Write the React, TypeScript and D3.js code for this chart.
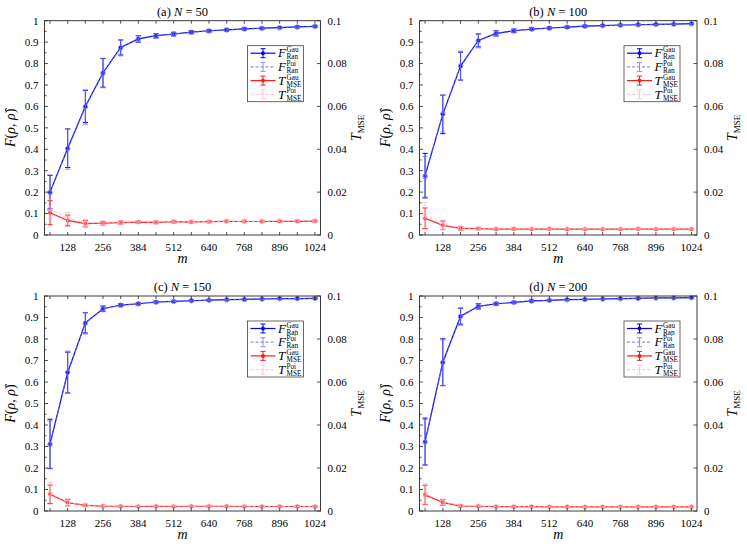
import * as d3 from "d3";

// sampling sizes m
const M_VALUES = [64, 128, 192, 256, 320, 384, 448, 512, 576, 640, 704, 768, 832, 896, 960, 1024];
const X_TICKS = [128, 256, 384, 512, 640, 768, 896, 1024];
const F_TICKS = [0, 0.1, 0.2, 0.3, 0.4, 0.5, 0.6, 0.7, 0.8, 0.9, 1];
const T_TICKS = [0, 0.02, 0.04, 0.06, 0.08, 0.1];

// N = 50
const F_GAU_50 = [0.2, 0.405, 0.6, 0.757, 0.875, 0.915, 0.93, 0.938, 0.947, 0.953, 0.957, 0.962, 0.965, 0.968, 0.971, 0.974];
const F_GAU_ERR_50 = [0.078, 0.09, 0.075, 0.067, 0.035, 0.015, 0.01, 0.008, 0.007, 0.006, 0.005, 0.005, 0.004, 0.004, 0.004, 0.004];
const F_POI_50 = [0.198, 0.402, 0.597, 0.755, 0.873, 0.914, 0.929, 0.937, 0.946, 0.952, 0.957, 0.961, 0.964, 0.967, 0.97, 0.973];
const F_POI_ERR_50 = [0.082, 0.095, 0.08, 0.068, 0.037, 0.016, 0.011, 0.009, 0.007, 0.006, 0.006, 0.005, 0.005, 0.004, 0.004, 0.004];
const T_GAU_50 = [0.0104, 0.0068, 0.0053, 0.0055, 0.0058, 0.006, 0.0059, 0.0062, 0.0061, 0.0062, 0.0064, 0.0063, 0.0063, 0.0064, 0.0064, 0.0065];
const T_GAU_ERR_50 = [0.0056, 0.0025, 0.0015, 0.0008, 0.0007, 0.0006, 0.0006, 0.0006, 0.0005, 0.0005, 0.0005, 0.0005, 0.0005, 0.0005, 0.0005, 0.0005];
const T_POI_50 = [0.0122, 0.0078, 0.0056, 0.0057, 0.0059, 0.0061, 0.006, 0.0063, 0.0062, 0.0063, 0.0064, 0.0064, 0.0064, 0.0065, 0.0065, 0.0066];
const T_POI_ERR_50 = [0.0045, 0.0027, 0.0016, 0.0009, 0.0007, 0.0006, 0.0006, 0.0006, 0.0005, 0.0005, 0.0005, 0.0005, 0.0005, 0.0005, 0.0005, 0.0005];

// N = 100
const F_GAU_100 = [0.277, 0.563, 0.788, 0.908, 0.941, 0.953, 0.961, 0.966, 0.97, 0.975, 0.977, 0.98, 0.981, 0.983, 0.984, 0.986];
const F_GAU_ERR_100 = [0.104, 0.09, 0.065, 0.03, 0.012, 0.008, 0.006, 0.005, 0.004, 0.004, 0.003, 0.003, 0.003, 0.003, 0.002, 0.002];
const F_POI_100 = [0.272, 0.566, 0.79, 0.906, 0.94, 0.952, 0.96, 0.965, 0.97, 0.974, 0.977, 0.979, 0.981, 0.982, 0.984, 0.985];
const F_POI_ERR_100 = [0.095, 0.085, 0.068, 0.033, 0.013, 0.008, 0.006, 0.005, 0.004, 0.004, 0.003, 0.003, 0.003, 0.003, 0.002, 0.002];
const T_GAU_100 = [0.0078, 0.0045, 0.0031, 0.003, 0.0027, 0.0028, 0.0027, 0.0028, 0.0027, 0.0027, 0.0027, 0.0027, 0.0028, 0.0027, 0.0027, 0.0027];
const T_GAU_ERR_100 = [0.0048, 0.002, 0.0008, 0.0005, 0.0004, 0.0004, 0.0003, 0.0003, 0.0003, 0.0003, 0.0003, 0.0003, 0.0003, 0.0003, 0.0003, 0.0003];
const T_POI_100 = [0.0088, 0.0048, 0.0033, 0.0031, 0.0028, 0.0029, 0.0028, 0.0029, 0.0028, 0.0028, 0.0028, 0.0028, 0.0029, 0.0028, 0.0028, 0.0028];
const T_POI_ERR_100 = [0.0064, 0.0022, 0.0009, 0.0005, 0.0004, 0.0004, 0.0003, 0.0003, 0.0003, 0.0003, 0.0003, 0.0003, 0.0003, 0.0003, 0.0003, 0.0003];

// N = 150
const F_GAU_150 = [0.312, 0.644, 0.875, 0.941, 0.958, 0.964, 0.972, 0.975, 0.978, 0.981, 0.983, 0.984, 0.986, 0.988, 0.988, 0.989];
const F_GAU_ERR_150 = [0.115, 0.095, 0.047, 0.012, 0.007, 0.005, 0.004, 0.003, 0.003, 0.003, 0.002, 0.002, 0.002, 0.002, 0.002, 0.002];
const F_POI_150 = [0.309, 0.646, 0.873, 0.94, 0.957, 0.964, 0.971, 0.975, 0.978, 0.98, 0.982, 0.984, 0.986, 0.987, 0.988, 0.989];
const F_POI_ERR_150 = [0.11, 0.098, 0.05, 0.013, 0.007, 0.005, 0.004, 0.003, 0.003, 0.003, 0.002, 0.002, 0.002, 0.002, 0.002, 0.002];
const T_GAU_150 = [0.0078, 0.0039, 0.0026, 0.0023, 0.0022, 0.0021, 0.0022, 0.0021, 0.0022, 0.0022, 0.0022, 0.0021, 0.0021, 0.0021, 0.0021, 0.0021];
const T_GAU_ERR_150 = [0.0043, 0.0015, 0.0006, 0.0004, 0.0003, 0.0003, 0.0003, 0.0003, 0.0003, 0.0003, 0.0003, 0.0003, 0.0003, 0.0003, 0.0003, 0.0003];
const T_POI_150 = [0.0082, 0.0041, 0.0027, 0.0023, 0.0022, 0.0022, 0.0022, 0.0022, 0.0022, 0.0022, 0.0022, 0.0022, 0.0021, 0.0021, 0.0021, 0.0021];
const T_POI_ERR_150 = [0.0052, 0.0016, 0.0006, 0.0004, 0.0003, 0.0003, 0.0003, 0.0003, 0.0003, 0.0003, 0.0003, 0.0003, 0.0003, 0.0003, 0.0003, 0.0003];

// N = 200
const F_GAU_200 = [0.323, 0.692, 0.906, 0.952, 0.964, 0.97, 0.977, 0.98, 0.983, 0.984, 0.986, 0.988, 0.989, 0.991, 0.991, 0.992];
const F_GAU_ERR_200 = [0.109, 0.109, 0.037, 0.012, 0.006, 0.005, 0.004, 0.003, 0.003, 0.002, 0.002, 0.002, 0.002, 0.002, 0.002, 0.002];
const F_POI_200 = [0.32, 0.69, 0.904, 0.951, 0.964, 0.97, 0.976, 0.98, 0.982, 0.984, 0.986, 0.987, 0.989, 0.99, 0.991, 0.992];
const F_POI_ERR_200 = [0.105, 0.106, 0.04, 0.013, 0.006, 0.005, 0.004, 0.003, 0.003, 0.002, 0.002, 0.002, 0.002, 0.002, 0.002, 0.002];
const T_GAU_200 = [0.0075, 0.004, 0.0023, 0.0022, 0.002, 0.002, 0.002, 0.0019, 0.0019, 0.0019, 0.0019, 0.0019, 0.0019, 0.0019, 0.0019, 0.0019];
const T_GAU_ERR_200 = [0.0045, 0.0013, 0.0005, 0.0004, 0.0003, 0.0003, 0.0003, 0.0003, 0.0003, 0.0003, 0.0003, 0.0003, 0.0003, 0.0003, 0.0003, 0.0003];
const T_POI_200 = [0.008, 0.0042, 0.0024, 0.0022, 0.0021, 0.0021, 0.002, 0.002, 0.002, 0.0019, 0.0019, 0.0019, 0.0019, 0.0019, 0.0019, 0.0019];
const T_POI_ERR_200 = [0.0048, 0.0014, 0.0005, 0.0004, 0.0003, 0.0003, 0.0003, 0.0003, 0.0003, 0.0003, 0.0003, 0.0003, 0.0003, 0.0003, 0.0003, 0.0003];

const FONT = "'Liberation Serif', 'DejaVu Serif', serif";
const AXIS = "#262626";
const BLUE = "#0000ff";
const BLUE_POI = "#6f6fe8";
const RED = "#ff1a1a";
const PINK = "#ffb3c1";

interface Series {
  values: number[];
  errs: number[];
  onRight: boolean;
  color: string;
  dash?: string;
  hollow: boolean;
  opacity: number;
}

interface PanelProps {
  label: string;
  n: number;
  left: number;
  right: number;
  top: number;
  bottom: number;
  fGau: number[];
  fGauErr: number[];
  fPoi: number[];
  fPoiErr: number[];
  tGau: number[];
  tGauErr: number[];
  tPoi: number[];
  tPoiErr: number[];
}

function ErrorBar({ x, y0, y1, color, opacity }: { x: number; y0: number; y1: number; color: string; opacity: number }) {
  const cap = 2.6;
  return (
    <g stroke={color} strokeWidth={1} opacity={opacity}>
      <line x1={x} x2={x} y1={y0} y2={y1} />
      <line x1={x - cap} x2={x + cap} y1={y0} y2={y0} />
      <line x1={x - cap} x2={x + cap} y1={y1} y2={y1} />
    </g>
  );
}

function Panel(p: PanelProps) {
  const x = d3.scaleLinear().domain([44, 1044]).range([p.left, p.right]);
  const yF = d3.scaleLinear().domain([0, 1]).range([p.bottom, p.top]);
  const yT = d3.scaleLinear().domain([0, 0.1]).range([p.bottom, p.top]);
  const midX = (p.left + p.right) / 2;
  const midY = (p.top + p.bottom) / 2;

  const series: Series[] = [
    { values: p.fGau, errs: p.fGauErr, onRight: false, color: BLUE, hollow: false, opacity: 1 },
    { values: p.fPoi, errs: p.fPoiErr, onRight: false, color: BLUE_POI, dash: "3,2", hollow: true, opacity: 0.75 },
    { values: p.tGau, errs: p.tGauErr, onRight: true, color: RED, hollow: false, opacity: 1 },
    { values: p.tPoi, errs: p.tPoiErr, onRight: true, color: PINK, dash: "3,2", hollow: true, opacity: 0.7 },
  ];

  const minorF = d3.range(0, 21).map((i) => i * 0.05);

  // legend
  const lgW = 56;
  const lgH = 56;
  const lgX = p.right - 17 - lgW;
  const lgY = p.top + 25;
  const legendRows = [
    { main: "F", sup: "Gau", sub: "Ran", s: series[0] },
    { main: "F", sup: "Poi", sub: "Ran", s: series[1] },
    { main: "T", sup: "Gau", sub: "MSE", s: series[2] },
    { main: "T", sup: "Poi", sub: "MSE", s: series[3] },
  ];

  return (
    <g fontFamily={FONT}>
      <text x={midX} y={p.top - 5} textAnchor="middle" fontSize={12.5} fill="#000">
        ({p.label}) <tspan fontStyle="italic">N</tspan> = {p.n}
      </text>

      {/* series */}
      {series.map((s, si) => {
        const ys = s.onRight ? yT : yF;
        const path = d3
          .line<number>()
          .x((_, i) => x(M_VALUES[i]))
          .y((v) => ys(v))(s.values);
        return (
          <g key={si}>
            <path d={path ?? ""} fill="none" stroke={s.color} strokeWidth={1.2} strokeDasharray={s.dash} opacity={s.opacity} />
            {s.values.map((v, i) => (
              <ErrorBar
                key={i}
                x={x(M_VALUES[i])}
                y0={ys(v - s.errs[i])}
                y1={ys(v + s.errs[i])}
                color={s.color}
                opacity={s.opacity}
              />
            ))}
            {s.values.map((v, i) =>
              s.hollow ? (
                <circle key={"m" + i} cx={x(M_VALUES[i])} cy={ys(v)} r={2.3} fill="none" stroke={s.color} strokeWidth={1} opacity={s.opacity} />
              ) : (
                <circle key={"m" + i} cx={x(M_VALUES[i])} cy={ys(v)} r={1.9} fill={s.color} />
              )
            )}
          </g>
        );
      })}

      {/* axes box */}
      <rect x={p.left} y={p.top} width={p.right - p.left} height={p.bottom - p.top} fill="none" stroke={AXIS} strokeWidth={0.9} />

      {/* x ticks */}
      {M_VALUES.map((t) => (
        <g key={"xt" + t} stroke={AXIS} strokeWidth={0.8}>
          <line x1={x(t)} x2={x(t)} y1={p.bottom} y2={p.bottom - 3} />
          <line x1={x(t)} x2={x(t)} y1={p.top} y2={p.top + 3} />
        </g>
      ))}
      {X_TICKS.map((t) => (
        <text key={"xl" + t} x={x(t)} y={p.bottom + 16} textAnchor="middle" fontSize={11} fill="#000">
          {t}
        </text>
      ))}

      {/* left ticks */}
      {minorF.map((t, i) => (
        <line key={"yf" + i} x1={p.left} x2={p.left + (i % 2 === 0 ? 3.5 : 2)} y1={yF(t)} y2={yF(t)} stroke={AXIS} strokeWidth={0.8} />
      ))}
      {F_TICKS.map((t) => (
        <text key={"fl" + t} x={p.left - 6} y={yF(t) + 3.8} textAnchor="end" fontSize={11} fill="#000">
          {d3.format("~g")(t)}
        </text>
      ))}

      {/* right ticks */}
      {T_TICKS.map((t) => (
        <g key={"tt" + t}>
          <line x1={p.right} x2={p.right - 3.5} y1={yT(t)} y2={yT(t)} stroke={AXIS} strokeWidth={0.8} />
          <text x={p.right + 7} y={yT(t) + 3.8} textAnchor="start" fontSize={11} fill="#000">
            {d3.format("~g")(t)}
          </text>
        </g>
      ))}

      {/* axis labels */}
      <text x={midX} y={p.bottom + 28} textAnchor="middle" fontSize={14} fontStyle="italic" fill="#000">
        m
      </text>
      <text transform={`translate(${p.left - 30},${midY}) rotate(-90)`} textAnchor="middle" fontSize={14} fill="#000">
        <tspan fontStyle="italic">F</tspan>(<tspan fontStyle="italic">ρ</tspan>, <tspan fontStyle="italic">ρ̂</tspan>)
      </text>
      <text transform={`translate(${p.right + 40},${midY}) rotate(-90)`} textAnchor="middle" fontSize={14} fill="#000">
        <tspan fontStyle="italic">T</tspan>
        <tspan fontSize={9} dy={3}>MSE</tspan>
      </text>

      {/* legend */}
      <rect x={lgX} y={lgY} width={lgW} height={lgH} fill="#fff" stroke="#444" strokeWidth={0.8} />
      {legendRows.map((r, i) => {
        const cy = lgY + 7.5 + i * 13.7;
        const x0 = lgX + 3;
        const x1 = lgX + 28;
        const xc = (x0 + x1) / 2;
        return (
          <g key={"lg" + i}>
            <line x1={x0} x2={x1} y1={cy} y2={cy} stroke={r.s.color} strokeWidth={1.2} strokeDasharray={r.s.dash} opacity={r.s.opacity} />
            <ErrorBar x={xc} y0={cy - 4.5} y1={cy + 4.5} color={r.s.color} opacity={r.s.opacity} />
            {!r.s.hollow && <circle cx={xc} cy={cy} r={2} fill={r.s.color} />}
            <text x={lgX + 30.5} y={cy + 4.2} fontSize={13} fontStyle="italic" fill="#000">
              {r.main}
            </text>
            <text x={lgX + 39} y={cy - 1} fontSize={7.2} fill="#000">
              {r.sup}
            </text>
            <text x={lgX + 39} y={cy + 6.2} fontSize={7.2} fill="#000">
              {r.sub}
            </text>
          </g>
        );
      })}
    </g>
  );
}

export default function App() {
  const cols = [
    { left: 44.5, right: 320.5 },
    { left: 419.5, right: 697 },
  ];
  const rows = [
    { top: 20.7, bottom: 235 },
    { top: 296, bottom: 511 },
  ];
  return (
    <svg width={747} height={546} style={{ position: "absolute", left: 0, top: 0, background: "#fff" }}>
      <Panel label="a" n={50} {...cols[0]} {...rows[0]}
        fGau={F_GAU_50} fGauErr={F_GAU_ERR_50} fPoi={F_POI_50} fPoiErr={F_POI_ERR_50}
        tGau={T_GAU_50} tGauErr={T_GAU_ERR_50} tPoi={T_POI_50} tPoiErr={T_POI_ERR_50} />
      <Panel label="b" n={100} {...cols[1]} {...rows[0]}
        fGau={F_GAU_100} fGauErr={F_GAU_ERR_100} fPoi={F_POI_100} fPoiErr={F_POI_ERR_100}
        tGau={T_GAU_100} tGauErr={T_GAU_ERR_100} tPoi={T_POI_100} tPoiErr={T_POI_ERR_100} />
      <Panel label="c" n={150} {...cols[0]} {...rows[1]}
        fGau={F_GAU_150} fGauErr={F_GAU_ERR_150} fPoi={F_POI_150} fPoiErr={F_POI_ERR_150}
        tGau={T_GAU_150} tGauErr={T_GAU_ERR_150} tPoi={T_POI_150} tPoiErr={T_POI_ERR_150} />
      <Panel label="d" n={200} {...cols[1]} {...rows[1]}
        fGau={F_GAU_200} fGauErr={F_GAU_ERR_200} fPoi={F_POI_200} fPoiErr={F_POI_ERR_200}
        tGau={T_GAU_200} tGauErr={T_GAU_ERR_200} tPoi={T_POI_200} tPoiErr={T_POI_ERR_200} />
    </svg>
  );
}
